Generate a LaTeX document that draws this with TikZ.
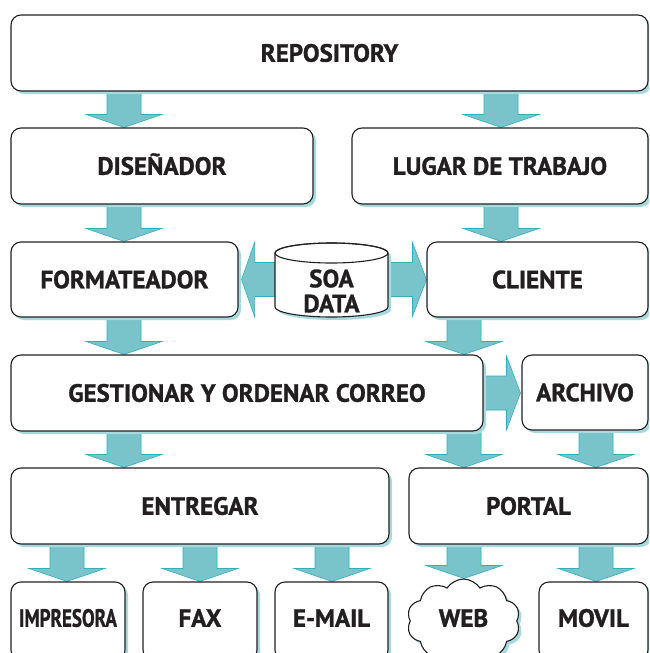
\documentclass[tikz,border=0pt]{standalone}
\usepackage{fontspec}
\setmainfont{PT Sans}[BoldFeatures={FakeBold=1.2}]
\usetikzlibrary{shapes.symbols,shadows,calc}
\definecolor{arrfill}{HTML}{79C4CA}
\definecolor{arrline}{HTML}{2FB1BD}
\definecolor{shad}{HTML}{A6DADF}
\definecolor{ink}{HTML}{231F20}
\pgfdeclarelayer{back}
\pgfdeclarelayer{bg}
\pgfsetlayers{back,bg,main}
\newcommand\darr[3]{%
  \fill[blk] let \p1=(#1.south), \p2=(#2.north) in
    (#3pt-17pt,\y1) -- (#3pt-17pt,\y2+13pt) -- (#3pt-38pt,\y2+13pt) -- (#3pt,\y2)
    -- (#3pt+38pt,\y2+13pt) -- (#3pt+17pt,\y2+13pt) -- (#3pt+17pt,\y1) -- cycle;}
\tikzset{
  lbl/.style={text=ink, font=\fontsize{25}{25}\selectfont\bfseries},
  box/.style={lbl, draw=ink, line width=1.1pt, rounded corners=10pt, fill=white, inner sep=0pt,
    text height=17.5pt, text depth=0pt,
    drop shadow={shadow xshift=3pt, shadow yshift=-3pt, fill=shad, opacity=1}},
  low/.style={text depth=6pt},
  blk/.style={fill=arrfill, draw=arrline, line width=0.6pt, line join=miter},
}
\begin{document}
\begin{tikzpicture}[x=1pt,y=-1pt]
\useasboundingbox (0,0) rectangle (649,653);
\begin{pgfonlayer}{back}
\fill[white] (0,0) rectangle (649,653);
\end{pgfonlayer}
\clip (0,0) rectangle (649,653);
% boxes
\node[box, minimum width=637, minimum height=76] (repo) at (329.5,53) {REPOSITORY};
\node[box, minimum width=302, minimum height=76] (dis) at (162,166) {DISEÑADOR};
\node[box, minimum width=296, minimum height=76] (lug) at (500,166) {LUGAR DE TRABAJO};
\node[box, minimum width=227, minimum height=75] (fmt) at (124.5,279.5) {FORMATEADOR};
\node[box, minimum width=221, minimum height=75] (cli) at (537.5,279.5) {CLIENTE};
\node[box, minimum width=472, minimum height=76] (gest) at (247,393) {GESTIONAR Y ORDENAR CORREO};
\node[box, minimum width=126, minimum height=75] (arch) at (585,392.5) {ARCHIVO};
\node[box, minimum width=378, minimum height=76] (ent) at (200,506) {ENTREGAR};
\node[box, minimum width=239, minimum height=76] (port) at (528.5,506) {PORTAL};
\node[box, low, minimum width=114, minimum height=78] (imp) at (68,621) {\scalebox{0.76}[1]{IMPRESORA}};
\node[box, low, minimum width=114, minimum height=78] (fax) at (200,621) {FAX};
\node[box, low, minimum width=113, minimum height=78] (mail) at (331.5,621) {E-MAIL};
\node[box, low, minimum width=109, minimum height=78] (movil) at (593.5,621) {MOVIL};
\node[box, low, rounded corners=0pt, cloud, cloud puffs=10, cloud puff arc=115, aspect=1.25,
      minimum width=113, minimum height=84] (web) at (463.5,621) {WEB};
% cylinder
\fill[shad, shift={(3,3)}] (275,253) -- (275,307) arc[start angle=180,end angle=0,x radius=56.5,y radius=10]
   -- (388,253) arc[start angle=0,end angle=-180,x radius=56.5,y radius=10] -- cycle;
\filldraw[fill=white, draw=ink, line width=1.1pt] (275,253) -- (275,307) arc[start angle=180,end angle=0,x radius=56.5,y radius=10]
   -- (388,253) arc[start angle=0,end angle=-180,x radius=56.5,y radius=10] -- cycle;
\draw[ink, line width=1.1pt] (331.5,253) ellipse[x radius=56.5, y radius=10];
\node[lbl, align=center, inner sep=0pt] (soa) at (331.5,291) {\fontsize{25}{21}\selectfont SOA\\DATA};
% arrows
\begin{pgfonlayer}{bg}
\darr{repo}{dis}{124}
\darr{repo}{lug}{501}
\darr{dis}{fmt}{124}
\darr{lug}{cli}{501}
\darr{fmt}{gest}{124}
\darr{cli}{gest}{464}
\darr{gest}{ent}{124}
\darr{gest}{port}{464}
\darr{arch}{port}{596}
\darr{ent}{imp}{67}
\darr{ent}{fax}{200}
\darr{ent}{mail}{332}
\darr{port}{web}{464}
\darr{port}{movil}{596}
\fill[blk] let \p1=(fmt.east), \p2=(cli.west) in
  (\x1+3pt,\y1) -- (\x1+16pt,\y1+37pt) -- (\x1+16pt,\y1+17pt) -- (\x2-14pt,\y1+17pt)
  -- (\x2-14pt,\y1+37pt) -- (\x2,\y1) -- (\x2-14pt,\y1-37pt) -- (\x2-14pt,\y1-17pt)
  -- (\x1+16pt,\y1-17pt) -- (\x1+16pt,\y1-37pt) -- cycle;
\fill[blk] let \p1=(gest.east), \p2=(arch.west) in
  (\x1,\y1+17pt) -- (\x2-15pt,\y1+17pt) -- (\x2-15pt,\y1+37pt) -- (\x2-1pt,\y1)
  -- (\x2-15pt,\y1-37pt) -- (\x2-15pt,\y1-17pt) -- (\x1,\y1-17pt) -- cycle;
\end{pgfonlayer}
\end{tikzpicture}
\end{document}
